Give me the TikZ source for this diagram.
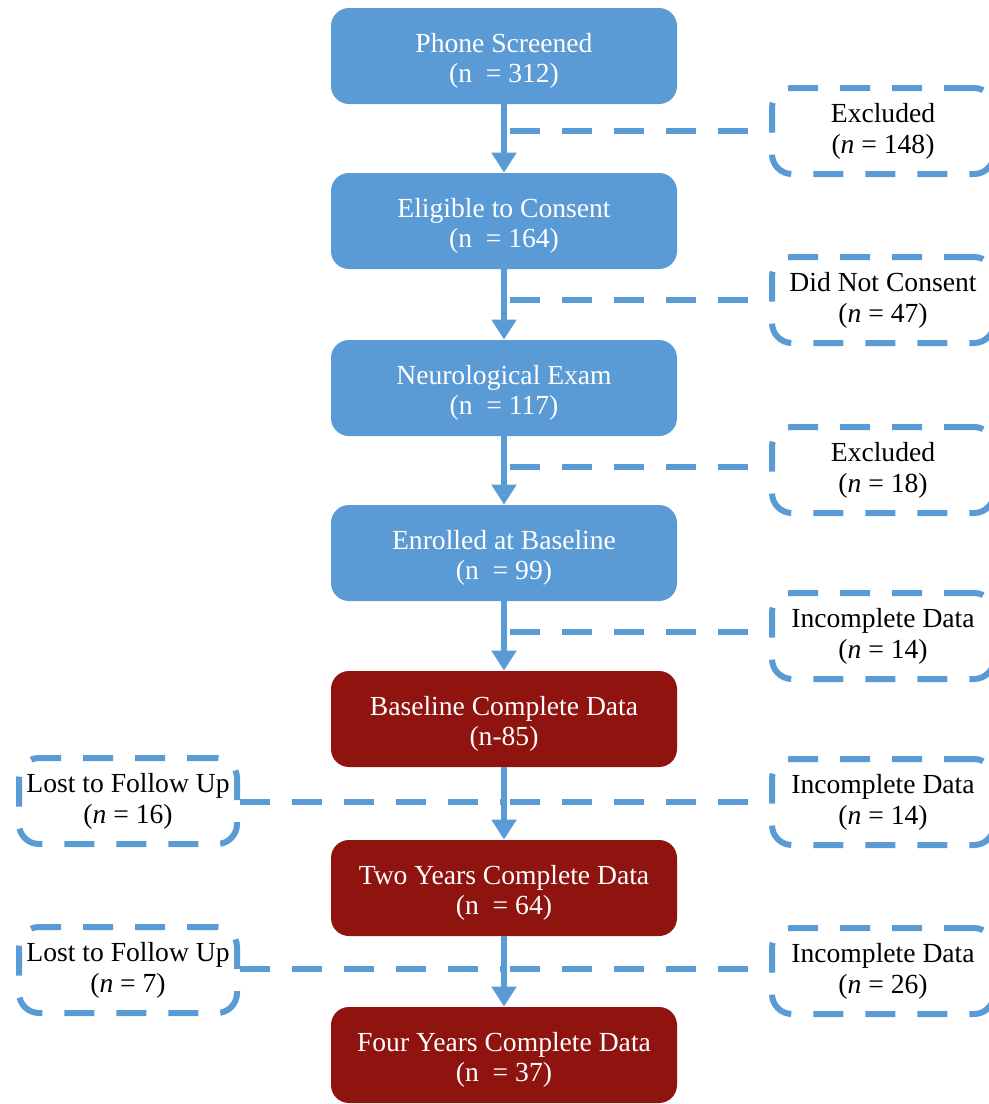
\documentclass[tikz,border=0pt]{standalone}
\usepackage{fontspec}
\setmainfont{Liberation Serif}
\usepackage{tikz}
\usetikzlibrary{arrows.meta}

\definecolor{flowblue}{HTML}{5B9BD5}
\definecolor{flowred}{HTML}{8F1410}

\begin{document}
\begin{tikzpicture}[x=0.5pt,y=-0.5pt,
    mainbox/.style={rounded corners=9pt,minimum width=173pt,minimum height=48pt,inner sep=0pt,
        align=center,text=white,font=\fontsize{13.8}{15}\selectfont},
    bluebox/.style={mainbox,fill=flowblue},
    redbox/.style={mainbox,fill=flowred},
    sidebox/.style={draw=flowblue,line width=3pt,dash pattern=on 15pt off 11pt,rounded corners=10pt,
        minimum width=111pt,minimum height=43pt,inner sep=0pt,align=center,text=black,
        font=\fontsize{13.8}{15.5}\selectfont},
    sideline/.style={draw=flowblue,line width=3pt,dash pattern=on 15pt off 11pt},
    flowarrow/.style={draw=flowblue,line width=3pt,-{Triangle[width=12pt,length=10pt]}}]
    \useasboundingbox (0,0) rectangle (989,1104);
    \clip (0,0) rectangle (989,1104);

    \node[bluebox] (phone) at (504,56) {\rule{0pt}{14pt}Phone Screened\\(n~~= 312)};
    \node[bluebox] (eligible) at (504,221) {\rule{0pt}{14pt}Eligible to Consent\\(n~~= 164)};
    \node[bluebox] (neuro) at (504,388) {\rule{0pt}{14pt}Neurological Exam\\(n~~= 117)};
    \node[bluebox] (enrolled) at (504,553) {\rule{0pt}{14pt}Enrolled at Baseline\\(n~~= 99)};
    \node[redbox] (basedata) at (504,719) {\rule{0pt}{14pt}Baseline Complete Data\\(n-85)};
    \node[redbox] (twoyears) at (504,888) {\rule{0pt}{14pt}Two Years Complete Data\\(n~~= 64)};
    \node[redbox] (fouryears) at (504,1055) {\rule{0pt}{14pt}Four Years Complete Data\\(n~~= 37)};

    \node[sidebox] (excl1) at (883,131) {Excluded\\(\textit{n} = 148)};
    \node[sidebox] (noconsent) at (883,300) {Did Not Consent\\(\textit{n} = 47)};
    \node[sidebox] (excl2) at (883,470) {Excluded\\(\textit{n} = 18)};
    \node[sidebox] (incomp1) at (883,636) {Incomplete Data\\(\textit{n} = 14)};
    \node[sidebox] (incomp2) at (883,802) {Incomplete Data\\(\textit{n} = 14)};
    \node[sidebox] (incomp3) at (883,971) {Incomplete Data\\(\textit{n} = 26)};
    \node[sidebox,minimum width=109pt] (lost1) at (128,801) {Lost to Follow Up\\(\textit{n} = 16)};
    \node[sidebox,minimum width=109pt] (lost2) at (128,970) {Lost to Follow Up\\(\textit{n} = 7)};

    \coordinate (j1) at (510,131);
    \coordinate (j2) at (510,300);
    \coordinate (j3) at (510,467);
    \coordinate (j4) at (510,632);
    \coordinate (j5) at (510,802);
    \coordinate (j6) at (510,969);
    \coordinate (k5) at (504,802);
    \coordinate (k6) at (504,969);

    \draw[sideline] (j1) -- (excl1.west |- j1);
    \draw[sideline] (j2) -- (noconsent.west |- j2);
    \draw[sideline] (j3) -- (excl2.west |- j3);
    \draw[sideline] (j4) -- (incomp1.west |- j4);
    \draw[sideline] (j5) -- (incomp2.west |- j5);
    \draw[sideline] (j6) -- (incomp3.west |- j6);
    \draw[sideline] (lost1.east |- k5) -- (k5);
    \draw[sideline] (lost2.east |- k6) -- (k6);

    \draw[flowarrow] (phone) -- (eligible);
    \draw[flowarrow] (eligible) -- (neuro);
    \draw[flowarrow] (neuro) -- (enrolled);
    \draw[flowarrow] (enrolled) -- (basedata);
    \draw[flowarrow] (basedata) -- (twoyears);
    \draw[flowarrow] (twoyears) -- (fouryears);
\end{tikzpicture}
\end{document}
